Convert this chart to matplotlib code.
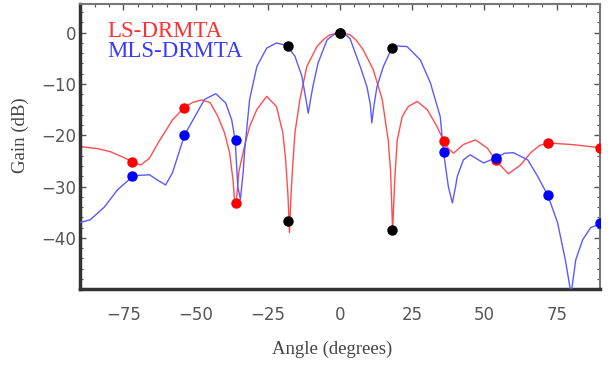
import matplotlib
matplotlib.use("Agg")
import matplotlib.pyplot as plt
from matplotlib.ticker import MultipleLocator

# ---- data ----
ls_angle = [-90, -84, -79.5, -75, -71.5, -69, -66, -63, -58, -54, -51, -48, -45,
            -42.4, -40, -38.2, -37, -36.5, -36, -35, -33, -31.3, -28.8, -25.4, -22,
            -19.8, -18.8, -18, -17.5, -17, -16.5, -15.6, -13.9, -11.5, -8, -5.5, -3.5,
            0, 3.5, 5.5, 8, 11.5, 14.6, 16.7, 17.5, 18.2, 19, 19.8, 21.5, 23.6, 26.7,
            30.2, 33.6, 35.8, 37.5, 39.3, 42.7, 46.9, 51, 54, 58.3, 62.5, 66, 69, 72,
            80, 90]
ls_gain = [-22.2, -22.6, -23.2, -24.3, -25.3, -25.8, -24.5, -21.5, -17, -14.6, -13.6,
           -13.1, -13.6, -16.2, -19.5, -23.5, -29, -33, -33.5, -27, -22, -18.3, -15,
           -12.4, -14.4, -19.5, -25, -32, -39, -32, -27, -19.5, -13, -6.6, -2.7, -1.2,
           -0.4, 0, -0.4, -1.4, -3.3, -7.2, -13, -21, -27, -38.5, -28, -21, -16.4,
           -14.4, -13.4, -15, -18.3, -21, -22.6, -23.5, -21.8, -20.9, -22.5, -25,
           -27.5, -25.8, -23.4, -22.0, -21.5, -21.8, -22.4]

mls_angle = [-90, -86.5, -81.6, -77, -71.5, -66, -63, -60.4, -58, -53.8, -50.3, -46.9,
             -43, -39.6, -37.5, -36.3, -35.4, -34.5, -33.5, -33, -31.3, -28.8, -25.4,
             -22, -18.4, -15.6, -13.2, -11.8, -11, -10.2, -9.4, -7.6, -4.5, -2, 0, 2,
             3.5, 7, 9.3, 10.5, 11, 11.8, 12.8, 15, 18, 20, 23.2, 27.8, 31.3, 34.7,
             35.8, 37.5, 38.9, 40, 40.6, 42.7, 45, 49.7, 54, 57, 60, 65, 68.4, 72,
             75.3, 78, 80, 81.6, 84, 86.8, 90]
mls_gain = [-37, -36.5, -34, -30.6, -27.9, -27.7, -28.8, -29.7, -27.3, -19.9, -16.4,
            -13, -11.9, -13.7, -17, -21, -30, -32.5, -27, -22.8, -13, -6.6, -3, -2,
            -2.5, -4.6, -8.5, -13, -15.7, -13, -10.5, -5.9, -1.4, -0.3, 0, -0.4,
            -1.2, -6.6, -10.5, -14, -17.6, -14, -10.5, -6.6, -2.9, -2.6, -2.7, -5.3,
            -9.8, -16.4, -23.2, -30, -33.2, -30, -28, -24.8, -23.8, -25.4, -24.4,
            -23.5, -23.4, -24.8, -28, -31.8, -37, -44.3, -51, -44.3, -40.4, -38, -37.3]

mark_angle = [-72, -54, -36, -18, 0, 18, 36, 54, 72, 90]
ls_mark = [-25.3, -14.6, -33.2, -36.8, 0, -38.5, -21.1, -24.9, -21.6, -22.4]
mls_mark = [-27.9, -19.9, -21.0, -2.5, 0, -2.9, -23.2, -24.5, -31.7, -37.2]
black_idx = [3, 4, 5]

xticks = [-75, -50, -25, 0, 25, 50, 75]
yticks = [0, -10, -20, -30, -40]

# ---- figure ----
fig = plt.figure(figsize=(6.16, 3.65), dpi=100)
ax = fig.add_axes([0.130, 0.208, 0.844, 0.781])

red_line = '#ff4d4d'
blue_line = '#5a5aff'
ax.plot(ls_angle, ls_gain, color=red_line, lw=1.0, zorder=2)
ax.plot(mls_angle, mls_gain, color=blue_line, lw=1.0, zorder=3)

col_idx = [i for i in range(len(mark_angle)) if i not in black_idx]
ax.plot([mark_angle[i] for i in col_idx], [ls_mark[i] for i in col_idx], 'o',
        color='#ff0000', ms=6.5, zorder=4)
ax.plot([mark_angle[i] for i in col_idx], [mls_mark[i] for i in col_idx], 'o',
        color='#0000ff', ms=6.5, zorder=4)
ax.plot([mark_angle[i] for i in black_idx] * 2,
        [ls_mark[i] for i in black_idx] + [mls_mark[i] for i in black_idx], 'o',
        color='black', ms=6.5, zorder=5)

ax.set_xlim(-90, 90)
ax.set_ylim(-50, 5.6)
ax.set_xticks(xticks)
ax.set_yticks(yticks)
ax.set_xticklabels([str(t).replace('-', '\u2212') for t in xticks])
ax.set_yticklabels([str(t).replace('-', '\u2212') for t in yticks])
ax.xaxis.set_minor_locator(MultipleLocator(5))
ax.yaxis.set_minor_locator(MultipleLocator(2))

ax.tick_params(axis='both', which='both', direction='in', colors='#555555',
               labelcolor='#555555', labelsize=12, top=True, right=True)
ax.tick_params(axis='both', which='major', length=4, width=1)
ax.tick_params(axis='both', which='minor', length=2.5, width=0.8)
ax.tick_params(axis='x', which='both', bottom=False, pad=12)
ax.tick_params(axis='y', which='both', pad=3)

for s in ['left', 'bottom']:
    ax.spines[s].set_linewidth(2.5)
    ax.spines[s].set_color('#333333')
for s in ['top', 'right']:
    ax.spines[s].set_linewidth(1.5)
    ax.spines[s].set_color('#777777')

serif = ['Liberation Serif', 'DejaVu Serif']
ax.set_xlabel('Angle (degrees)', family=serif, fontsize=13.5, color='#444444')
ax.set_ylabel('Gain (dB)', family=serif, fontsize=13.5, color='#444444')
ax.xaxis.set_label_coords(0.485, -0.18)
ax.yaxis.set_label_coords(-0.098, 0.54)

ax.text(0.052, 0.905, 'LS-DRMTA', transform=ax.transAxes, family=serif,
        fontsize=16.5, color='#ff3030', va='center', ha='left')
ax.text(0.052, 0.835, 'MLS-DRMTA', transform=ax.transAxes, family=serif,
        fontsize=16.5, color='#3a3aff', va='center', ha='left')

fig.savefig('out.png', dpi=100)
